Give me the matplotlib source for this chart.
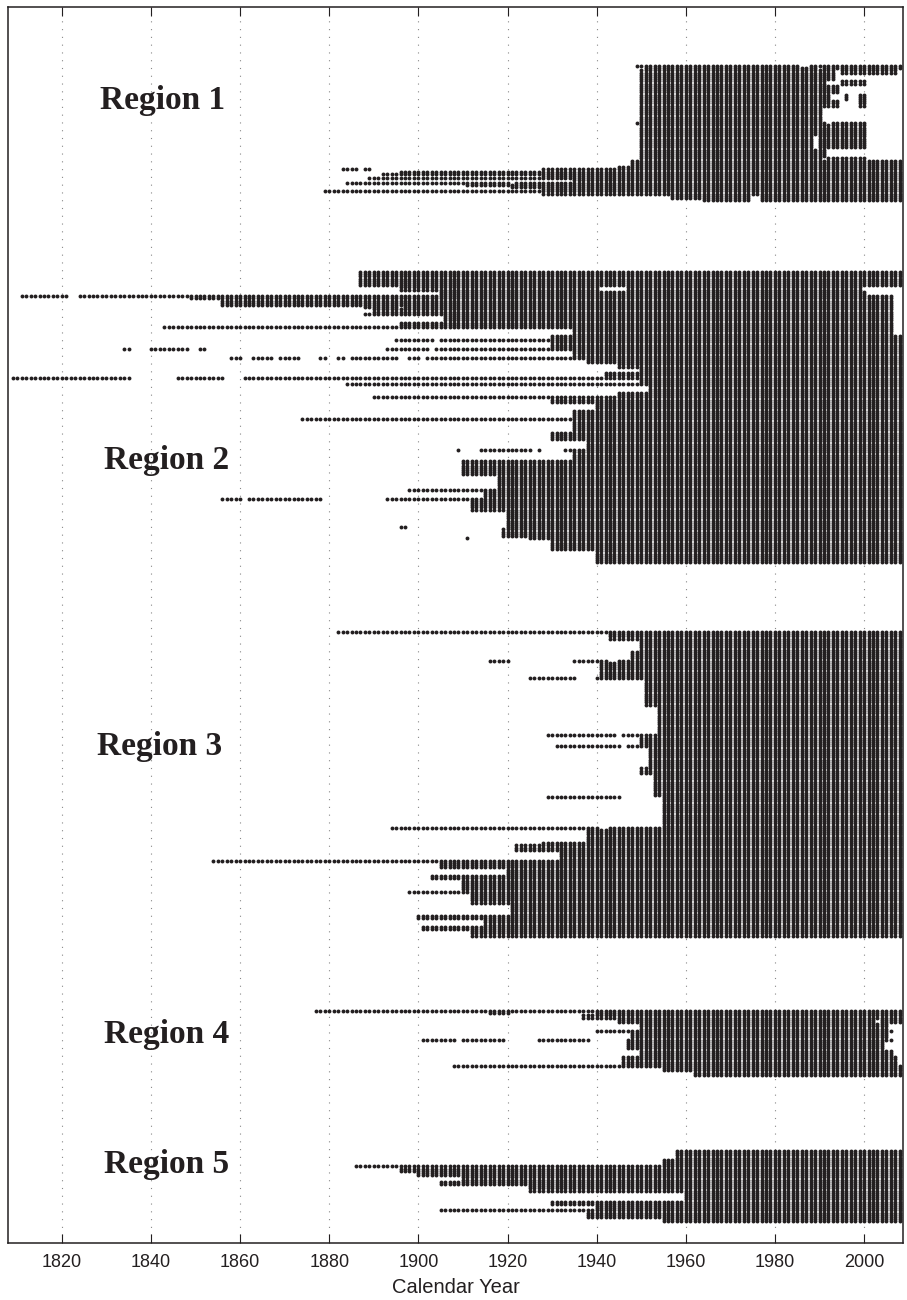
import numpy as np
import matplotlib
matplotlib.use('Agg')
import matplotlib.pyplot as plt

# station records per region, top to bottom:
# (number of stations, [(first year, last year), ...])
region1 = [
    (1, [(1949, 1985), (1988, 2008)]),
    (1, [(1951, 1989), (1991, 2008)]),
    (2, [(1950, 1993), (1995, 2007)]),
    (3, [(1950, 1993)]),
    (2, [(1950, 1991), (1995, 2000)]),
    (4, [(1950, 1994)]),
    (3, [(1950, 1992), (1996, 1996), (1999, 2000)]),
    (3, [(1950, 1994), (1999, 2000)]),
    (7, [(1950, 1990)]),
    (1, [(1949, 1991), (1993, 2000)]),
    (5, [(1950, 2000)]),
    (6, [(1950, 1988), (1990, 2000)]),
    (4, [(1950, 1991)]),
    (1, [(1950, 1990), (1992, 2000)]),
    (3, [(1948, 2008)]),
    (1, [(1945, 2008)]),
    (1, [(1883, 1886), (1888, 1889), (1928, 2008)]),
    (1, [(1896, 2008)]),
    (1, [(1892, 2008)]),
    (1, [(1928, 2008)]),
    (1, [(1889, 2008)]),
    (1, [(1935, 2008)]),
    (1, [(1884, 1920), (1922, 2008)]),
    (1, [(1911, 2008)]),
    (1, [(1921, 2008)]),
    (1, [(1928, 2008)]),
    (1, [(1879, 2008)]),
    (1, [(1928, 2008)]),
    (2, [(1957, 1974), (1977, 2008)]),
    (1, [(1964, 1974), (1977, 2008)]),
]

region2 = [
    (7, [(1887, 2008)]),
    (2, [(1896, 1940), (1947, 1999)]),
    (2, [(1905, 2000)]),
    (1, [(1811, 1821), (1824, 2006)]),
    (1, [(1849, 2006)]),
    (3, [(1856, 2006)]),
    (1, [(1888, 1895), (1897, 2006)]),
    (2, [(1890, 2006)]),
    (1, [(1888, 2006)]),
    (3, [(1906, 2006)]),
    (2, [(1896, 2006)]),
    (1, [(1843, 2006)]),
    (3, [(1935, 2006)]),
    (2, [(1930, 2008)]),
    (1, [(1895, 1903), (1905, 2008)]),
    (3, [(1930, 2008)]),
    (1, [(1834, 1835), (1840, 1848), (1851, 1852), (1893, 1902), (1904, 2008)]),
    (3, [(1935, 2008)]),
    (1, [(1858, 1860), (1863, 1867), (1869, 1873), (1878, 1879), (1882, 1883),
         (1885, 1895), (1898, 1900), (1902, 2008)]),
    (2, [(1938, 2008)]),
    (2, [(1945, 2008)]),
    (2, [(1950, 2008)]),
    (2, [(1942, 2008)]),
    (1, [(1809, 1835), (1846, 1856), (1861, 2008)]),
    (2, [(1950, 2008)]),
    (1, [(1884, 2008)]),
    (3, [(1952, 2008)]),
    (2, [(1945, 2008)]),
    (1, [(1890, 2008)]),
    (2, [(1930, 2008)]),
    (3, [(1940, 2008)]),
    (4, [(1935, 2008)]),
    (1, [(1874, 2008)]),
    (5, [(1935, 2008)]),
    (4, [(1930, 2008)]),
    (4, [(1938, 2008)]),
    (1, [(1909, 1909), (1914, 1925), (1927, 1927), (1933, 2008)]),
    (4, [(1935, 2008)]),
    (7, [(1910, 2008)]),
    (6, [(1918, 2008)]),
    (1, [(1898, 2008)]),
    (3, [(1915, 2008)]),
    (1, [(1856, 1860), (1862, 1878), (1893, 2008)]),
    (5, [(1912, 2008)]),
    (7, [(1920, 2008)]),
    (1, [(1896, 1897), (1920, 2008)]),
    (4, [(1919, 2008)]),
    (1, [(1911, 1911), (1925, 2008)]),
    (5, [(1930, 2008)]),
    (6, [(1940, 2008)]),
]

region3 = [
    (1, [(1882, 2008)]),
    (3, [(1943, 2008)]),
    (5, [(1950, 2008)]),
    (4, [(1948, 2008)]),
    (1, [(1916, 1920), (1935, 1942), (1945, 2008)]),
    (7, [(1941, 2008)]),
    (1, [(1925, 1935), (1940, 2008)]),
    (12, [(1951, 2008)]),
    (13, [(1954, 2008)]),
    (1, [(1929, 1944), (1946, 2008)]),
    (4, [(1950, 2008)]),
    (1, [(1931, 1945), (1947, 2008)]),
    (9, [(1952, 2008)]),
    (3, [(1950, 2008)]),
    (10, [(1953, 2008)]),
    (1, [(1929, 1945), (1955, 2008)]),
    (13, [(1955, 2008)]),
    (1, [(1894, 1940), (1943, 2008)]),
    (6, [(1938, 2008)]),
    (1, [(1928, 2008)]),
    (3, [(1922, 2008)]),
    (4, [(1932, 2008)]),
    (1, [(1854, 2008)]),
    (3, [(1905, 2008)]),
    (3, [(1920, 2008)]),
    (2, [(1903, 2008)]),
    (5, [(1910, 2008)]),
    (1, [(1898, 2008)]),
    (5, [(1912, 2008)]),
    (5, [(1921, 2008)]),
    (2, [(1900, 2008)]),
    (3, [(1915, 2008)]),
    (2, [(1901, 2008)]),
    (3, [(1912, 2008)]),
]

region4 = [
    (1, [(1877, 2008)]),
    (1, [(1916, 1920), (1940, 2008)]),
    (2, [(1937, 2008)]),
    (2, [(1945, 2002), (2004, 2008)]),
    (3, [(1950, 2005)]),
    (1, [(1940, 2006)]),
    (3, [(1948, 2005)]),
    (1, [(1901, 1908), (1910, 1919), (1927, 1935), (1936, 1938), (1947, 2006)]),
    (4, [(1947, 2004)]),
    (3, [(1950, 2006)]),
    (4, [(1946, 2007)]),
    (1, [(1908, 2008)]),
    (2, [(1955, 2008)]),
    (2, [(1962, 2008)]),
]

region5 = [
    (4, [(1958, 2008)]),
    (3, [(1955, 2008)]),
    (1, [(1886, 2008)]),
    (2, [(1896, 2008)]),
    (2, [(1900, 2008)]),
    (2, [(1910, 2008)]),
    (2, [(1905, 2008)]),
    (3, [(1925, 2008)]),
    (4, [(1960, 2008)]),
    (2, [(1930, 2008)]),
    (2, [(1940, 2008)]),
    (1, [(1905, 2008)]),
    (3, [(1938, 2008)]),
    (2, [(1955, 2008)]),
]

region_names = ['Region 1', 'Region 2', 'Region 3', 'Region 4', 'Region 5']
tick_years = [1820, 1840, 1860, 1880, 1900, 1920, 1940, 1960, 1980, 2000]

# layout: y in pixels below the top spine
row_step = 2.2
region_tops = [59.3, 265.3, 625.3, 1004.3, 1144.3]
label_y = [93.3, 454.3, 740.3, 1027.3, 1157.3]
label_x = [1828.6, 1829.5, 1827.9, 1829.5, 1829.5]
axes_height = 1236.0

fig = plt.figure(figsize=(9.07, 13.0), dpi=100)
ax = fig.add_axes([8.3 / 907, 1 - 1242.7 / 1300, (903.3 - 8.3) / 907, axes_height / 1300])

dot = '#231f20'
regions = [region1, region2, region3, region4, region5]
xs, ys = [], []
for top, reg in zip(region_tops, regions):
    row = top
    for count, segs in reg:
        for k in range(count):
            for a, b in segs:
                yrs = np.arange(a, b + 1)
                xs.append(yrs)
                ys.append(np.full(len(yrs), row))
            row += row_step
xs = np.concatenate(xs)
ys = np.concatenate(ys)
ax.plot(xs, ys, 'o', ms=2.8, mew=0, color=dot, zorder=3)

for name, yl, xl in zip(region_names, label_y, label_x):
    ax.text(xl, yl, name, fontsize=24, fontweight='bold', family='Liberation Serif',
            ha='left', va='center', color=dot)

ax.set_xlim(1808, 2008.8)
ax.set_ylim(axes_height, 0)
ax.set_xticks(tick_years)
ax.set_yticks([])
ax.tick_params(axis='x', direction='in', length=6.5, width=0.8, top=True,
               labelsize=13, pad=8, colors=dot)
for lab in ax.get_xticklabels():
    lab.set_family('Liberation Sans')
for y0 in tick_years:
    ax.axvline(y0, color='#888888', lw=0.8, linestyle=(0, (1, 6)), zorder=1)
for s in ax.spines.values():
    s.set_linewidth(1.1)
    s.set_color(dot)
ax.set_xlabel('Calendar Year', fontsize=14.5, family='Liberation Sans', labelpad=5,
              color=dot)

fig.savefig('out.png', dpi=100)
